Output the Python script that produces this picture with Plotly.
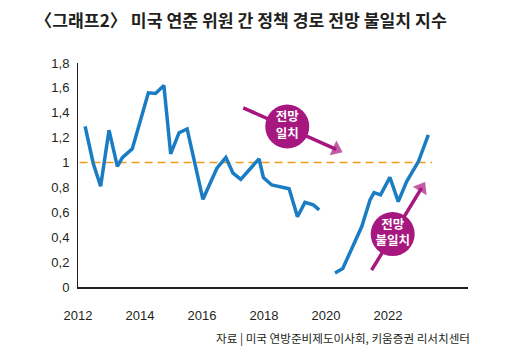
import plotly.graph_objects as go

# data (decimal years, index values)
years_a = [2012.23, 2012.49, 2012.73, 2013.0, 2013.27, 2013.43, 2013.75, 2014.27, 2014.5, 2014.77,
           2014.99, 2015.26, 2015.52, 2016.03, 2016.48, 2016.77, 2017.0, 2017.25, 2017.84, 2017.98,
           2018.25, 2018.81, 2019.08, 2019.32, 2019.59, 2019.78]
vals_a = [1.29, 0.995, 0.81, 1.26, 0.97, 1.04, 1.11, 1.56, 1.555, 1.62,
          1.07, 1.24, 1.27, 0.705, 0.955, 1.04, 0.915, 0.865, 1.03, 0.88,
          0.82, 0.79, 0.565, 0.68, 0.66, 0.62]
years_b = [2020.29, 2020.54, 2021.15, 2021.42, 2021.55, 2021.76, 2022.06, 2022.33, 2022.6, 2022.98, 2023.3]
vals_b = [0.113, 0.148, 0.484, 0.70, 0.758, 0.74, 0.882, 0.686, 0.847, 1.008, 1.223]

ref_x = [2012.05, 2023.42]
ref_y = [1.0, 1.0]

x_ticks = [2012, 2014, 2016, 2018, 2020, 2022]
y_ticks = [0, 0.2, 0.4, 0.6, 0.8, 1.0, 1.2, 1.4, 1.6, 1.8]
y_ticktext = ["0", "0,2", "0,4", "0,6", "0,8", "1", "1,2", "1,4", "1,6", "1,8"]

title = "〈그래프2〉 미국 연준 위원 간 정책 경로 전망 불일치 지수"
source = "자료 | 미국 연방준비제도이사회, 키움증권 리서치센터"

bubble_x = [2018.75, 2022.15]
bubble_y = [1.29, 0.425]
bubble_text = ["<b>전망<br>일치</b>", "<b>전망<br>불일치</b>"]
arrow_tail_x = [2017.33, 2021.47]
arrow_tail_y = [1.44, 0.135]
arrow_head_x = [2020.33, 2023.08]
arrow_head_y = [1.106, 0.795]

BLUE = "#1a7dc4"
MAGENTA = "#a6177f"
ORANGE = "#f39a1e"
INK = "#231f20"

fig = go.Figure()

fig.add_trace(go.Scatter(x=ref_x, y=ref_y, mode="lines",
                         line=dict(color=ORANGE, width=1.6, dash="8px,5px"),
                         hoverinfo="skip", showlegend=False))
fig.add_trace(go.Scatter(x=years_a + [None] + years_b, y=vals_a + [None] + vals_b,
                         mode="lines", line=dict(color=BLUE, width=3.5),
                         connectgaps=False, showlegend=False))

for i in range(2):
    fig.add_trace(go.Scatter(x=[arrow_tail_x[i], arrow_head_x[i]], y=[arrow_tail_y[i], arrow_head_y[i]],
                             mode="lines+markers",
                             line=dict(color=MAGENTA, width=3.5),
                             marker=dict(symbol=["circle", "triangle-up"], size=[0, 14], color=MAGENTA,
                                         angleref="previous", line=dict(width=0)),
                             showlegend=False, hoverinfo="skip"))

fig.add_trace(go.Scatter(x=bubble_x, y=bubble_y, mode="markers+text",
                         marker=dict(size=44, color=MAGENTA, line=dict(width=0)),
                         text=bubble_text, textposition="middle center",
                         textfont=dict(color="white", size=12.5, family="Noto Sans CJK KR"),
                         showlegend=False, hoverinfo="skip"))

W, H = 513, 348
ML, MR, MT, MB = 70, 53, 55, 69
PW, PH = W - ML - MR, H - MT - MB

fig.update_layout(
    width=W, height=H,
    margin=dict(l=ML, r=MR, t=MT, b=MB),
    paper_bgcolor="white", plot_bgcolor="white",
    showlegend=False,
    font=dict(family="Liberation Sans Narrow, Liberation Sans, sans-serif", color=INK),
)
tickfont = dict(size=13, family="Liberation Sans Narrow, Liberation Sans, sans-serif", color=INK)
fig.update_xaxes(range=[2012.0, 2024.58], tickvals=x_ticks, ticktext=[str(v) for v in x_ticks],
                 showgrid=False, zeroline=False, showline=True, linecolor=INK, linewidth=1.5,
                 ticks="outside", ticklen=16, tickcolor="rgba(0,0,0,0)", tickfont=tickfont)
fig.update_yaxes(range=[0, 1.8], tickvals=y_ticks, ticktext=y_ticktext,
                 showgrid=False, zeroline=False, showline=True, linecolor=INK, linewidth=1,
                 ticks="outside", ticklen=5, tickcolor="rgba(0,0,0,0)", tickfont=tickfont)

fig.add_annotation(text="<b>" + title + "</b>", xref="paper", yref="paper",
                   x=-(ML - 25) / PW, y=1 + (MT - 12) / PH, xanchor="left", yanchor="middle",
                   showarrow=False, font=dict(size=17.2, family="Noto Sans CJK KR", color=INK))
fig.add_annotation(text=source, xref="paper", yref="paper",
                   x=1 + 4 / PW, y=-(330 - (MT + PH)) / PH, xanchor="right", yanchor="middle",
                   showarrow=False, font=dict(size=11.6, family="Noto Sans CJK KR", color=INK))

fig.write_html("out.html")
